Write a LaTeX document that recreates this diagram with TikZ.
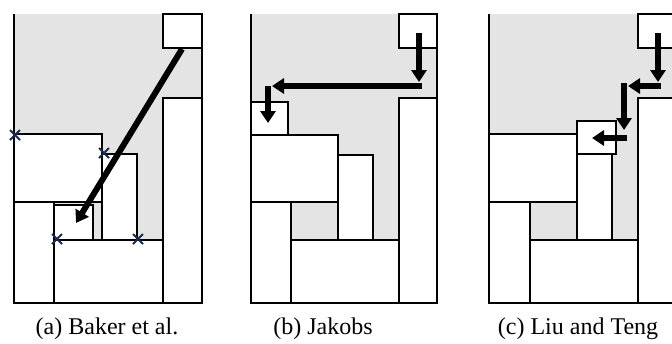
\documentclass[tikz,border=0pt]{standalone}
\usepackage{fontspec}
\setmainfont{Liberation Serif}
\usetikzlibrary{arrows.meta}
\definecolor{bggray}{HTML}{E4E4E4}
\definecolor{xmark}{HTML}{1A2A48}
\tikzset{
  bg/.style={fill=bggray},
  wall/.style={draw=black, line width=1.4pt},
  box/.style={draw=black, fill=white, line width=1.4pt},
  movearrow/.style={line width=6pt, -{Triangle[length=12pt, width=15pt]}},
  xm/.style={draw=xmark, line width=2pt},
  caption/.style={font=\fontsize{24}{27}\selectfont, anchor=base}
}
\newcommand{\xmk}[2]{\draw[xm] (#1-5,#2-5) -- (#1+5,#2+5) (#1-5,#2+5) -- (#1+5,#2-5);}
\begin{document}
\begin{tikzpicture}[x=1pt, y=-1pt]
\useasboundingbox (0,0) rectangle (672,343);
\clip (0,0) rectangle (672,343);
\fill[white] (0,0) rectangle (672,343);
% ---------- panel (a)
\fill[bg] (14,14) rectangle (202,303);
\draw[wall] (14,14) -- (14,303) -- (202,303) -- (202,14);
\draw[box] (163,14) rectangle (202,48);
\draw[box] (163,98) rectangle (202,303);
\draw[box] (14,134) rectangle (102,202);
\draw[box] (102,154) rectangle (137,240);
\draw[box] (14,202) rectangle (54,303);
\draw[box] (54,240) rectangle (163,303);
\draw[box] (54,205) rectangle (93,240);
\coordinate (a1) at (182,49);
\coordinate (a2) at (76,223);
\draw[movearrow] (a1) -- (a2);
\xmk{15}{135}
\xmk{104}{153}
\xmk{57}{239}
\xmk{138}{239}
\node[caption] (ca) at (107,334) {(a) Baker et al.};
% ---------- panel (b)
\fill[bg] (251,14) rectangle (437,303);
\draw[wall] (251,14) -- (251,303) -- (437,303) -- (437,14);
\draw[box] (399,14) rectangle (437,48);
\draw[box] (399,98) rectangle (437,303);
\draw[box] (251,102) rectangle (288,135);
\draw[box] (251,135) rectangle (338,202);
\draw[box] (338,155) rectangle (373,240);
\draw[box] (251,202) rectangle (291,303);
\draw[box] (291,240) rectangle (399,303);
\coordinate (b1) at (419,33);
\coordinate (b2) at (419,82);
\coordinate (b3) at (422,86);
\coordinate (b4) at (272,86);
\coordinate (b5) at (268,86);
\coordinate (b6) at (268,123);
\draw[movearrow] (b1) -- (b2);
\draw[movearrow] (b3) -- (b4);
\draw[movearrow] (b5) -- (b6);
\node[caption] (cb) at (323,334) {(b) Jakobs};
% ---------- panel (c)
\fill[bg] (489,14) rectangle (677,303);
\draw[wall] (489,14) -- (489,303) -- (677,303);
\draw[box] (638,14) rectangle (677,48);
\draw[box] (638,98) rectangle (677,303);
\draw[box] (489,134) rectangle (577,202);
\draw[box] (577,154) rectangle (612,240);
\draw[box] (577,121) rectangle (616,154);
\draw[box] (489,202) rectangle (530,303);
\draw[box] (530,240) rectangle (638,303);
\coordinate (c1) at (658,33);
\coordinate (c2) at (658,82);
\coordinate (c3) at (661,86);
\coordinate (c4) at (628,86);
\coordinate (c5) at (624,83);
\coordinate (c6) at (624,130);
\coordinate (c7) at (627,138);
\coordinate (c8) at (592,138);
\draw[movearrow] (c1) -- (c2);
\draw[movearrow] (c3) -- (c4);
\draw[movearrow] (c5) -- (c6);
\draw[movearrow] (c7) -- (c8);
\node[caption] (cc) at (578,334) {(c) Liu and Teng};
\end{tikzpicture}
\end{document}
